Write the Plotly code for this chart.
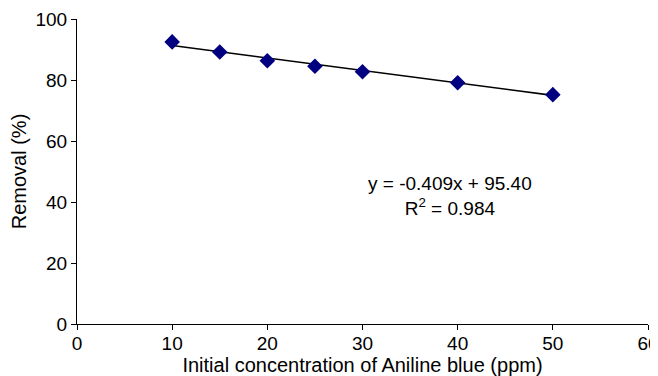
import numpy as np
import plotly.graph_objects as go

concentration = [10, 15, 20, 25, 30, 40, 50]
removal = [92.5, 89.2, 86.3, 84.5, 82.7, 79.1, 75.2]
slope = -0.409
intercept = 95.40
r_squared = 0.984
x_ticks = [0, 10, 20, 30, 40, 50, 60]
y_ticks = [0, 20, 40, 60, 80, 100]

fit_x = np.array([min(concentration), max(concentration)])
fit_y = slope * fit_x + intercept

font = "Liberation Sans, Arial, Helvetica, sans-serif"

fig = go.Figure()
fig.add_trace(go.Scatter(x=fit_x, y=fit_y, mode="lines",
                         line=dict(color="black", width=1.6), showlegend=False))
fig.add_trace(go.Scatter(x=concentration, y=removal, mode="markers",
                         marker=dict(symbol="diamond", size=12, color="#000080",
                                     line=dict(width=0)), showlegend=False))

fig.add_annotation(x=39.2, y=42, xref="x", yref="y", showarrow=False,
                   text=f"y = {slope:.3f}x + {intercept:.2f}<br>R<sup>2</sup> = {r_squared:.3f}",
                   font=dict(family=font, size=19, color="black"), align="center")

fig.update_layout(
    width=650, height=368,
    margin=dict(l=69, r=10, t=11, b=52),
    paper_bgcolor="white", plot_bgcolor="white",
    font=dict(family=font, size=19, color="black"),
)
fig.update_xaxes(range=[0, 60], tickvals=x_ticks, showgrid=False, zeroline=False,
                 showline=True, linecolor="black", linewidth=1, automargin=False,
                 ticks="outside", ticklen=5, tickcolor="black",
                 tickfont=dict(size=19), ticklabeloverflow="allow",
                 ticklabelstandoff=-3,
                 title=dict(text="Initial concentration of Aniline blue (ppm)", standoff=3,
                            font=dict(size=20)))
fig.update_yaxes(range=[0, 100], tickvals=y_ticks, showgrid=False, zeroline=False,
                 showline=True, linecolor="black", linewidth=1, automargin=False,
                 ticks="outside", ticklen=5, tickcolor="black",
                 tickfont=dict(size=19),
                 title=dict(text="Removal (%)", standoff=8, font=dict(size=20)))

fig.write_html("out.html")
